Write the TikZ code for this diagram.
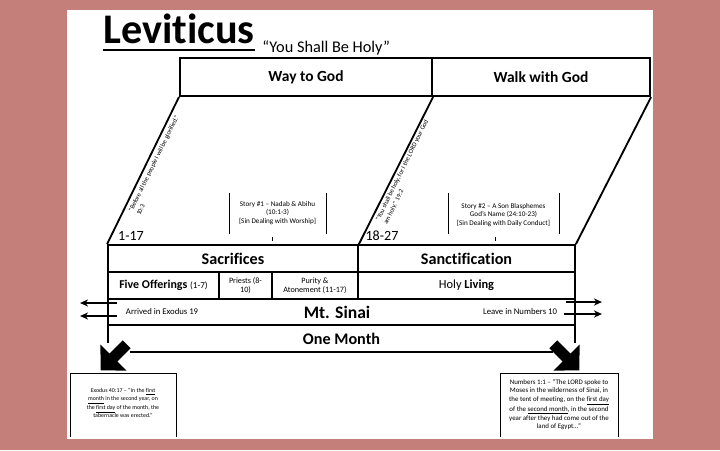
\documentclass[tikz,border=0pt]{standalone}
\usepackage{fontspec}
\setmainfont{Carlito}[Ligatures=NoCommon]
\usetikzlibrary{arrows.meta}
\definecolor{rose}{RGB}{196,127,122}
\newcommand{\upx}{0.025cm}

\begin{document}
\begin{tikzpicture}[x=0.025cm, y=-0.025cm,
  >={Stealth[length=2mm, width=1.8mm]},
  box/.style={draw, line width=1.5pt, inner sep=0pt, minimum height=38*\upx,
    font=\fontsize{11}{13}\selectfont\bfseries},
  cell/.style={draw, line width=1.3pt, inner sep=0pt, align=center, minimum height=27*\upx},
  head/.style={font=\fontsize{11.5}{13}\selectfont\bfseries},
  sub/.style={font=\fontsize{8.5}{10}\selectfont},
  small/.style={font=\fontsize{5.8}{6.5}\selectfont},
  story/.style={inner sep=0pt, anchor=north, align=center,
    font=\fontsize{5.1}{6.2}\selectfont},
  slant/.style={rotate=64, anchor=north west, inner sep=1pt, align=left,
    font=\fontsize{4.6}{6}\selectfont},
  note/.style={inner sep=0pt, anchor=north, align=center},
  rng/.style={font=\fontsize{10}{12}\selectfont},
  edge/.style={line width=1.3pt},
  thin/.style={line width=0.6pt},
  fat/.style={line width=0.28cm, -{Triangle[length=4.5mm, width=9mm]}}]
\fill[rose] (0,0) rectangle (720,450);
\fill[white] (67,10) rectangle (653,439);
\useasboundingbox (0,0) rectangle (720,450);

\node[anchor=base west, inner sep=0pt, font=\fontsize{30}{34}\selectfont\bfseries] (lev) at (103,43) {Leviticus};
\draw[line width=1.8pt] ([shift={(0,7)}]lev.base west) -- ++(152,0);
\node[anchor=base west, inner sep=0pt, font=\fontsize{11.6}{13}\selectfont] (motto) at (262,52) {“You Shall Be Holy”};

\node[box, minimum width=252*\upx] (way) at (306,77) {Way to God};
\node[box, minimum width=218*\upx] (walk) at (541,77) {Walk with God};

\node[cell, head, minimum width=250*\upx] (sac) at (233,258.5) {Sacrifices};
\node[cell, head, minimum width=217*\upx] (san) at (466.5,258.5) {Sanctification};
\node[cell, sub, minimum width=111*\upx] (five) at (163.5,285.5) {\textbf{Five Offerings} {\fontsize{6.5}{7}\selectfont(1-7)}};
\node[cell, small, minimum width=53*\upx] (pri) at (245.5,285.5) {Priests (8-\\10)};
\node[cell, small, minimum width=86*\upx] (pur) at (315,285.5) {Purity \&\\Atonement (11-17)};
\node[cell, font=\fontsize{8.8}{10}\selectfont, minimum width=217*\upx] (liv) at (466.5,285.5) {Holy \textbf{Living}};
\node[cell, minimum width=467*\upx, minimum height=26*\upx] (sinai) at (341.5,312) {};
\node[head, font=\fontsize{12.5}{14}\selectfont\bfseries] (sinaitxt) at (337,312) {Mt. Sinai};
\node[head, inner sep=0pt, minimum width=467*\upx, minimum height=27*\upx] (month) at (341.5,338.5) {One Month};
\node[small, font=\fontsize{6.2}{7}\selectfont, anchor=west] (arr) at (121,311) {Arrived in Exodus 19};
\node[small, font=\fontsize{6.2}{7}\selectfont, anchor=east] (lea) at (562,311) {Leave in Numbers 10};

\draw[edge] (way.south west) -- (sac.north west);
\draw[edge] (way.south east) -- (sac.north east);
\draw[edge] (walk.south east) -- (san.north east);
\node[slant] (q1) at (126,211) {“Before all the people I will be glorified.”\\10:3};
\node[slant] (q2) at (373,220) {“You shall be holy, for I the LORD your God\\am holy.” 19:2};
\node[rng] (r1) at (131,236) {1-17};
\node[rng] (r2) at (382,236) {18-27};

\node[story] (st1) at (277.5,201) {Story \#1 – Nadab \& Abihu\\(10:1-3)\\ {[}Sin Dealing with Worship]};
\draw[thin] (229,193) -- (229,234) (326,193) -- (326,234);
\draw[thin, densely dashed] (272,237) -- (272,245);
\node[story] (st2) at (503.5,203) {Story \#2 – A Son Blasphemes\\God's Name (24:10-23)\\ {[}Sin Dealing with Daily Conduct]};
\draw[thin] (448,193) -- (448,234) (559,193) -- (559,234);
\draw[thin, densely dashed] (495,237) -- (495,245);

\draw[edge] (month.north west) -- ++(0,18);
\draw[edge] (month.north east) -- ++(0,18);
\draw[edge] ([shift={(22,0)}]month.south west) -- ([shift={(-22,0)}]month.south east);
\draw[fat] ([shift={(19,-8)}]month.south west) -- ++(-26,26);
\draw[fat] ([shift={(-22,-8)}]month.south east) -- ++(26,26);

\draw[->, line width=1pt] ([shift={(10,-9)}]sinai.west) -- ++(-37,0);
\draw[->, line width=1pt] ([shift={(10,4)}]sinai.west) -- ++(-37,0);
\draw[->, line width=1pt] ([shift={(-10,-10)}]sinai.east) -- ++(36,0);
\draw[->, line width=1pt] ([shift={(-12,2)}]sinai.east) -- ++(38,0);

\draw[thin] (70,437) |- (176,373) -- (176,437);
\node[note, font=\fontsize{4.2}{6}\selectfont] (ex) at (123,388) {Exodus 40:17 – “In the \underline{first}\\\underline{month} in the second year, on\\the \underline{first day} of the month, the\\tabernacle was erected.”};
\draw[thin] (500,437) |- (618,373) -- (618,437);
\node[note, font=\fontsize{4.9}{6.1}\selectfont] (nu) at (559,379) {Numbers 1:1 – “The LORD spoke to\\Moses in the wilderness of Sinai, in\\the tent of meeting, on the \underline{first day}\\of the \underline{second month}, in the second\\year after they had come out of the\\land of Egypt…”};
\end{tikzpicture}
\end{document}
